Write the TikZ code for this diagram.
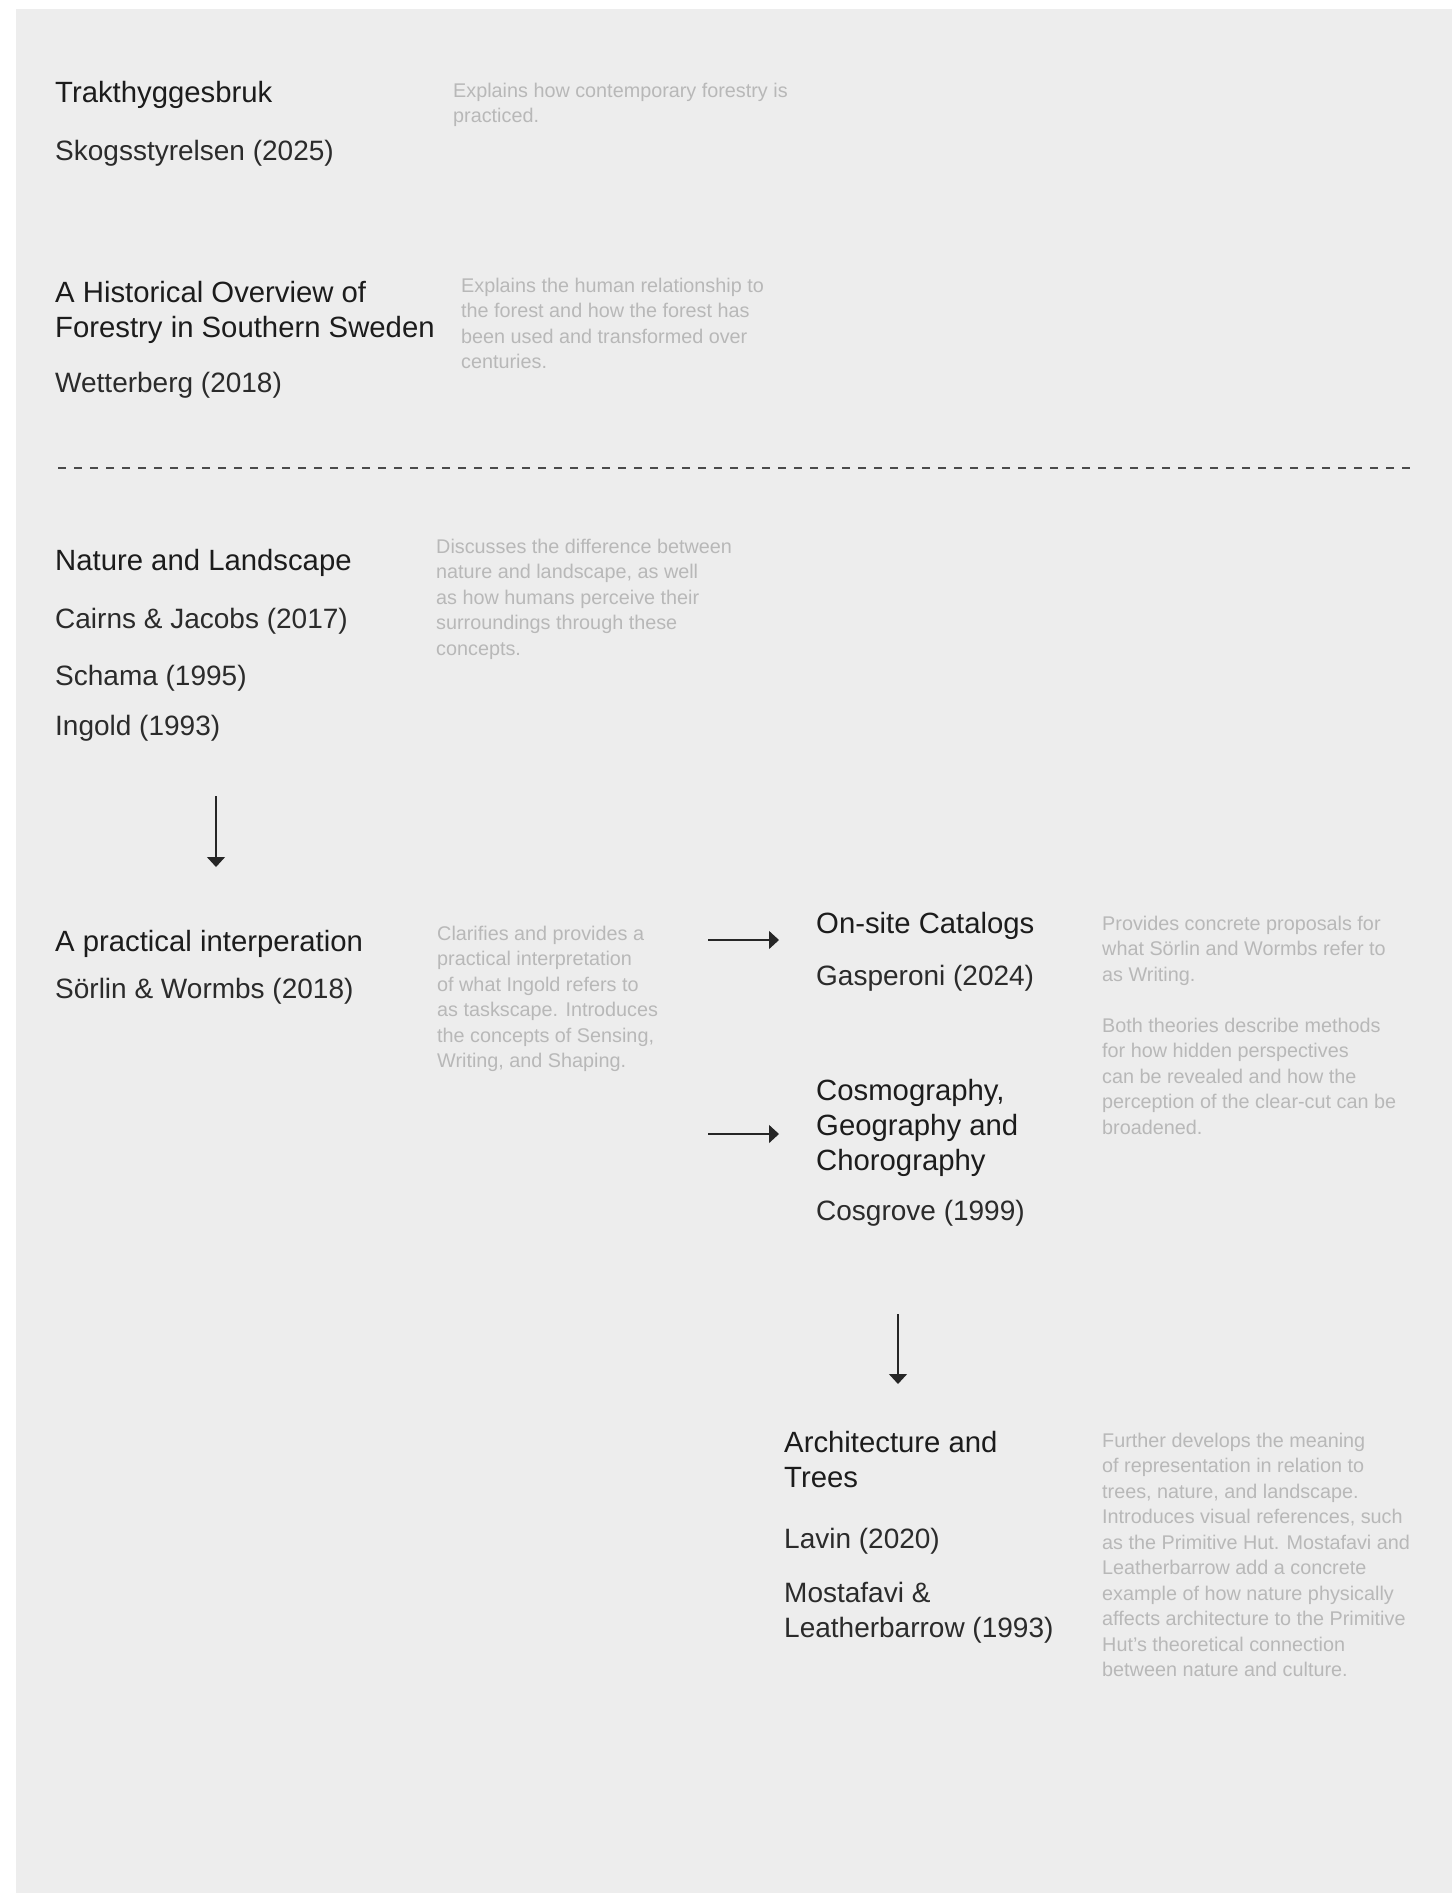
\documentclass[tikz,border=0pt]{standalone}
\usepackage{fontspec}
\setmainfont{Liberation Sans}
\usetikzlibrary{arrows.meta}
\definecolor{bgc}{HTML}{EDEDED}
\definecolor{titlec}{HTML}{1C1C1C}
\definecolor{authc}{HTML}{2B2B2B}
\definecolor{descc}{HTML}{B8B8B8}
\definecolor{linec}{HTML}{262626}
\definecolor{dashc}{HTML}{4A4A4A}
\begin{document}
\begin{tikzpicture}[x=1pt,y=-1pt,
  titlebox/.style={anchor=base west,inner sep=0pt,align=left,text=titlec,font=\fontsize{29.3}{35}\selectfont},
  authbox/.style={anchor=base west,inner sep=0pt,align=left,text=authc,font=\fontsize{28}{35}\selectfont},
  descbox/.style={anchor=base west,inner sep=0pt,align=left,text=descc,font=\fontsize{19.8}{25.5}\selectfont},
  flow/.style={draw=linec,line width=1.3pt,-{Triangle[width=18pt,length=10pt]}},
  divider/.style={draw=dashc,line width=2pt,dash pattern=on 8pt off 8pt}
]
\useasboundingbox (0,0) rectangle (1455,1893);
\fill[bgc] (16,9) rectangle (1452,1893);

% multi-line nodes are placed by the baseline of their last line

% Section 1
\node[titlebox] (t1) at (55,102) {Trakthyggesbruk};
\node[authbox] (a1) at (55,160) {Skogsstyrelsen (2025)};
\node[descbox] (d1) at (453,122.5) {Explains how contemporary forestry is\\practiced.};

% Section 2
\node[titlebox] (t2) at (55,337) {A Historical Overview of\\Forestry in Southern Sweden};
\node[authbox] (a2) at (55,392) {Wetterberg (2018)};
\node[descbox] (d2) at (461,368.5) {Explains the human relationship to\\the forest and how the forest has\\been used and transformed over\\centuries.};

% Divider
\coordinate (dvs) at (58,468);
\coordinate (dve) at (1410,468);
\draw[divider] (dvs) -- (dve);

% Section 3
\node[titlebox] (t3) at (55,570) {Nature and Landscape};
\node[authbox] (a3a) at (55,628) {Cairns \& Jacobs (2017)};
\node[authbox] (a3b) at (55,685) {Schama (1995)};
\node[authbox] (a3c) at (55,735) {Ingold (1993)};
\node[descbox] (d3) at (436,655) {Discusses the difference between\\nature and landscape, as well\\as how humans perceive their\\surroundings through these\\concepts.};

% Section 4
\node[titlebox] (t4) at (55,951) {A practical interperation};
\node[authbox] (a4) at (55,998) {Sörlin \& Wormbs (2018)};
\node[descbox] (d4) at (437,1067.5) {Clarifies and provides a\\practical interpretation\\of what Ingold refers to\\as taskscape. Introduces\\the concepts of Sensing,\\Writing, and Shaping.};

% Section 5
\node[titlebox] (t5) at (816,933) {On-site Catalogs};
\node[authbox] (a5) at (816,985) {Gasperoni (2024)};
\node[titlebox] (t6) at (816,1170) {Cosmography,\\Geography and\\Chorography};
\node[authbox] (a6) at (816,1220) {Cosgrove (1999)};
\node[descbox] (d5) at (1102,1134) {Provides concrete proposals for\\what Sörlin and Wormbs refer to\\as Writing.\\[25.5pt]Both theories describe methods\\for how hidden perspectives\\can be revealed and how the\\perception of the clear-cut can be\\broadened.};

% Section 6
\node[titlebox] (t7) at (784,1487) {Architecture and\\Trees};
\node[authbox] (a7a) at (784,1548) {Lavin (2020)};
\node[authbox] (a7b) at (784,1637) {Mostafavi \&\\Leatherbarrow (1993)};
\node[descbox] (d6) at (1102,1676.5) {Further develops the meaning\\of representation in relation to\\trees, nature, and landscape.\\Introduces visual references, such\\as the Primitive Hut. Mostafavi and\\Leatherbarrow add a concrete\\example of how nature physically\\affects architecture to the Primitive\\Hut’s theoretical connection\\between nature and culture.};

% Arrows
\coordinate (ar1s) at (216,796);
\coordinate (ar1e) at (216,867);
\coordinate (ar2s) at (708,940);
\coordinate (ar2e) at (779,940);
\coordinate (ar3s) at (708,1134);
\coordinate (ar3e) at (779,1134);
\coordinate (ar4s) at (898,1314);
\coordinate (ar4e) at (898,1384);
\draw[flow] (ar1s) -- (ar1e);
\draw[flow] (ar2s) -- (ar2e);
\draw[flow] (ar3s) -- (ar3e);
\draw[flow] (ar4s) -- (ar4e);
\end{tikzpicture}
\end{document}
